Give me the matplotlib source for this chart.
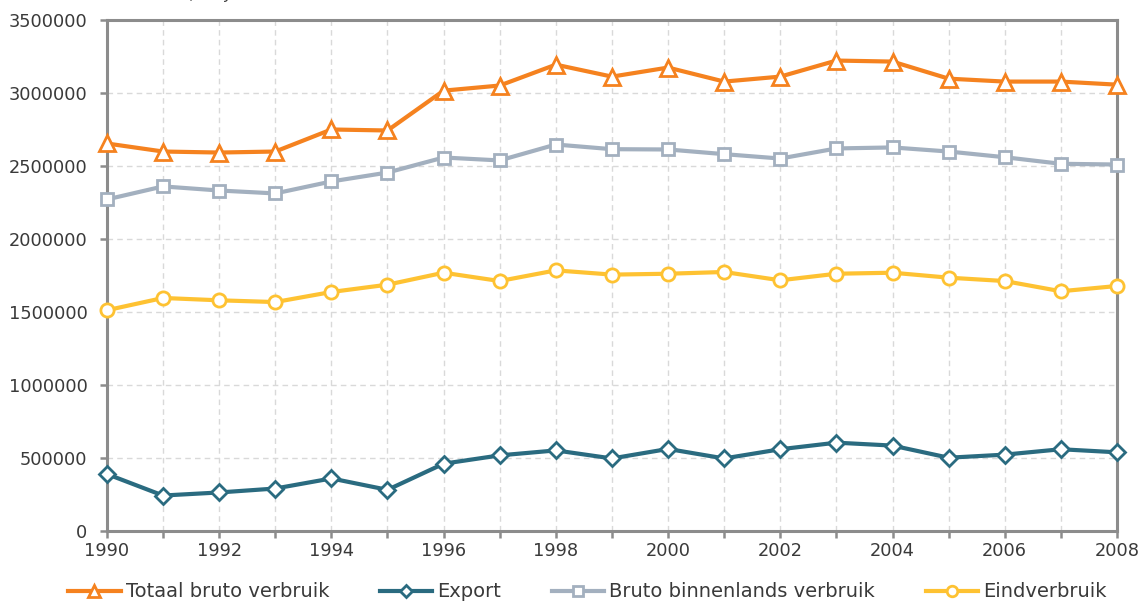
import matplotlib.pyplot as plt
from matplotlib.ticker import MultipleLocator

# Data (TJ)
years = list(range(1990, 2009))
totaal = [2654000, 2599000, 2592000, 2599000, 2750000, 2743000, 3016000, 3051000, 3194000, 3112000,
          3174000, 3078000, 3112000, 3222000, 3215000, 3098000, 3078000, 3078000, 3057000]
export = [390000, 243000, 264000, 291000, 360000, 282000, 461000, 518000, 552000, 497000,
          562000, 497000, 560000, 605000, 585000, 502000, 523000, 560000, 539000]
bruto_binnen = [2271000, 2360000, 2332000, 2312000, 2394000, 2455000, 2558000, 2538000, 2647000, 2615000,
                2613000, 2581000, 2551000, 2620000, 2627000, 2599000, 2560000, 2515000, 2510000]
eind = [1512000, 1596000, 1580000, 1568000, 1637000, 1687000, 1769000, 1712000, 1785000, 1756000,
        1762000, 1774000, 1717000, 1762000, 1769000, 1735000, 1712000, 1642000, 1678000]

labels = ["Totaal bruto verbruik", "Export", "Bruto binnenlands verbruik", "Eindverbruik"]
colors = ["#F5821F", "#2A6B80", "#A3B0BF", "#FEC232"]

plt.rcParams['font.family'] = ['DejaVu Sans']
text_col = "#3A3A3A"
axis_col = "#8C8C8C"

fig = plt.figure(figsize=(11.45, 6.05), dpi=100)
ax = fig.add_axes([0.0934, 0.1223, 0.8821, 0.8447])

series = [totaal, export, bruto_binnen, eind]
markers = ["^", "D", "s", "o"]
msizes = [11.5, 8, 9, 9.5]
for vals, lab, c, m, ms in zip(series, labels, colors, markers, msizes):
    ax.plot(years, vals, color=c, lw=3, marker=m, ms=ms, mfc="white", mec=c, mew=2,
            label=lab, clip_on=False, zorder=3)

ax.set_xlim(1990, 2008)
ax.set_ylim(0, 3500000)
ax.xaxis.set_major_locator(MultipleLocator(2))
ax.xaxis.set_minor_locator(MultipleLocator(1))
ax.yaxis.set_major_locator(MultipleLocator(500000))

ax.grid(True, which="both", axis="x", color="#D9D9D9", ls=(0, (4, 3)), lw=1)
ax.grid(True, which="major", axis="y", color="#D9D9D9", ls=(0, (4, 3)), lw=1)
ax.set_axisbelow(True)

for s in ax.spines.values():
    s.set_color(axis_col)
    s.set_linewidth(2.2)

ax.tick_params(axis="both", which="both", colors=axis_col, width=1.8, length=5,
               labelcolor=text_col, labelsize=12.8)
ax.tick_params(axis="x", which="both", pad=3)
ax.tick_params(axis="y", pad=9)
ax.ticklabel_format(axis="y", style="plain")

# subtitle, cut off at the top edge as in the original
fig.text(0.097, 1 + 5 / 605, "1990-2008, in TJ", fontsize=10.5, style="italic",
         color=text_col, va="center", ha="left")

leg = fig.legend(loc="center", bbox_to_anchor=(0.513, 0.0215), ncol=4, frameon=False,
                 fontsize=14, handlelength=2.7, handletextpad=0.26, columnspacing=2.6,
                 labelcolor=text_col, markerscale=0.8)

fig.savefig("out.png", dpi=100)
